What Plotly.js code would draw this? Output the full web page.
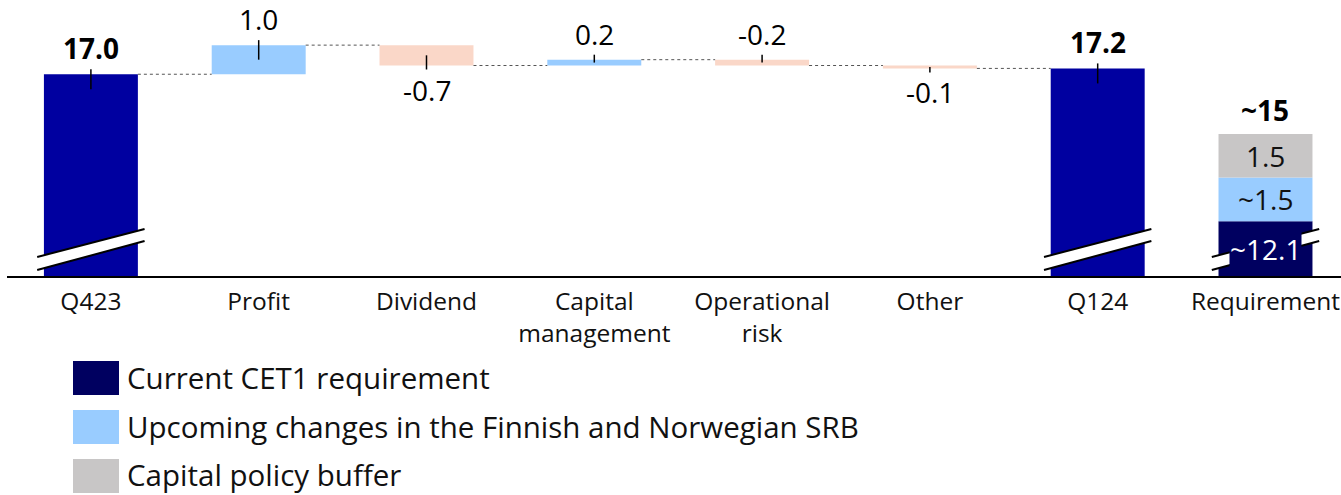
<!DOCTYPE html>
<html>
<head>
<meta charset="utf-8">
<script src="https://cdn.plot.ly/plotly-3.0.1.min.js"></script>
<style>html,body{margin:0;padding:0;background:#fff;}#chart{width:1341px;height:495px;}</style>
</head>
<body>
<div id="chart"></div>
<script>
// ---- data ----
const categories = ["Q423", "Profit", "Dividend", "Capital management", "Operational risk", "Other", "Q124", "Requirement"];
const tickLabels = ["Q423", "Profit", "Dividend", "Capital<br>management", "Operational<br>risk", "Other", "Q124", "Requirement"];
const waterfallValues = [17.0, 1.0, -0.7, 0.2, -0.2, -0.1, 17.2];
const waterfallMeasures = ["absolute", "relative", "relative", "relative", "relative", "relative", "absolute"];
const waterfallLabels = ["17.0", "1.0", "-0.7", "0.2", "-0.2", "-0.1", "17.2"];
const labelSides = ["above", "above", "below", "above", "above", "below", "above"];
const reqSeries = ["Current CET1 requirement", "Upcoming changes in the Finnish and Norwegian SRB", "Capital policy buffer"];
const reqValues = [11.95, 1.5, 1.5];
const reqLabels = ["~12.1", "~1.5", "1.5"];
const reqTotalLabel = "~15";

// ---- styles ----
const FONT = "Open Sans, Noto Sans, sans-serif";
const C_ABS = "#0000A0", C_INC = "#99CCFF", C_DEC = "#FAD7C8";
const reqColors = ["#000060", "#99CCFF", "#C8C6C6"];
const reqTextColors = ["#ffffff", "#111111", "#111111"];
const W = 1341, H = 495, ML = 7, MT = 0, MB = 219, MR = 0;
const PH = H - MT - MB, PW = W - ML - MR;
const Y0 = 10.07, Y1 = 19.55, X0 = -0.5, X1 = 7.45;
const PPU = PH / (Y1 - Y0);
const BW = 0.56;
const pxY = p => p / PPU; // pixel length -> data length
const paperX = px => (px - ML) / PW;
const paperY = py => (MT + PH - py) / PH;

// waterfall geometry
const bases = [], lens = [], colors = [], ends = [];
let cum = 0;
waterfallValues.forEach((v, i) => {
  if (waterfallMeasures[i] === "absolute") {
    bases.push(0); lens.push(v); colors.push(C_ABS); cum = v;
  } else {
    bases.push(cum); lens.push(v); colors.push(v >= 0 ? C_INC : C_DEC); cum += v;
  }
  ends.push(cum);
});
const xs = waterfallValues.map((_, i) => i);

const traces = [{
  type: "bar", x: xs, y: lens, base: bases, width: BW,
  marker: {color: colors, line: {width: 0}}, showlegend: false, hoverinfo: "skip"
}];
let reqBase = 0;
const reqBases = [];
reqValues.forEach((v, k) => {
  reqBases.push(reqBase);
  traces.push({
    type: "bar", x: [7], y: [v], base: [reqBase], width: BW, name: reqSeries[k],
    marker: {color: reqColors[k], line: {width: 0}}, showlegend: false, hoverinfo: "skip"
  });
  reqBase += v;
});

const shapes = [], annotations = [];
// connectors
for (let i = 0; i < 6; i++) {
  shapes.push({type: "line", xref: "x", yref: "y", x0: i + BW / 2, x1: i + 1 - BW / 2, y0: ends[i], y1: ends[i],
    line: {color: "#555", width: 1, dash: "dot"}});
}
// labels + ticks
waterfallValues.forEach((v, i) => {
  const top = Math.max(bases[i], bases[i] + lens[i]);
  const bot = Math.min(bases[i], bases[i] + lens[i]);
  const hpx = (top - bot) * PPU;
  const inside = Math.min(15, hpx / 2);
  const isAbs = waterfallMeasures[i] === "absolute";
  const txt = isAbs ? "<b>" + waterfallLabels[i] + "</b>" : waterfallLabels[i];
  if (labelSides[i] === "above") {
    shapes.push({type: "line", xref: "x", yref: "y", x0: i, x1: i, y0: top + pxY(5), y1: top - pxY(inside), line: {color: "#000", width: 1.5}});
    annotations.push({x: i, y: top, xref: "x", yref: "y", text: txt,
      showarrow: false, yanchor: "middle", yshift: 26, font: {family: FONT, size: 28, color: "#000"}});
  } else {
    shapes.push({type: "line", xref: "x", yref: "y", x0: i, x1: i, y0: bot - pxY(4), y1: bot + pxY(inside), line: {color: "#000", width: 1.5}});
    annotations.push({x: i, y: bot, xref: "x", yref: "y", text: txt,
      showarrow: false, yanchor: "middle", yshift: -24, font: {family: FONT, size: 28, color: "#000"}});
  }
});
// breaks
[0, 6, 7].forEach(i => {
  const xa = i - 0.32, xb = i + 0.32;
  const y = p => Y0 + pxY(p);
  shapes.push({type: "path", xref: "x", yref: "y",
    path: `M ${xa} ${y(6)} L ${xb} ${y(35)} L ${xb} ${y(47)} L ${xa} ${y(19)} Z`,
    fillcolor: "#fff", line: {width: 0}});
  shapes.push({type: "line", xref: "x", yref: "y", x0: xa, x1: xb, y0: y(6), y1: y(35), line: {color: "#000", width: 2}});
  shapes.push({type: "line", xref: "x", yref: "y", x0: xa, x1: xb, y0: y(19), y1: y(47), line: {color: "#000", width: 2}});
});
// requirement labels
reqValues.forEach((v, k) => {
  let yc = reqBases[k] + v / 2;
  if (k === 0) yc = Y0 + pxY(27);
  annotations.push({x: 7, y: yc, xref: "x", yref: "y", text: reqLabels[k], showarrow: false, yanchor: "middle",
    font: {family: FONT, size: 28, color: reqTextColors[k]},
    bgcolor: k === 0 ? reqColors[0] : "rgba(0,0,0,0)", borderpad: 0});
});
annotations.push({x: 7, y: reqBase, xref: "x", yref: "y", text: "<b>" + reqTotalLabel + "</b>", showarrow: false,
  yanchor: "middle", yshift: 24, font: {family: FONT, size: 28, color: "#000"}});
// legend
const legTops = [361, 410, 459];
const legTextY = [377, 426, 474];
reqSeries.forEach((s, k) => {
  shapes.push({type: "rect", xref: "paper", yref: "paper", x0: paperX(73), x1: paperX(119),
    y0: paperY(legTops[k]), y1: paperY(legTops[k] + 34), fillcolor: reqColors[k], line: {width: 0}});
  annotations.push({xref: "paper", yref: "paper", x: paperX(125), y: paperY(legTextY[k]), text: s,
    showarrow: false, xanchor: "left", yanchor: "middle", font: {family: FONT, size: 29.5, color: "#111"}});
});

const layout = {
  width: W, height: H, margin: {l: ML, r: MR, t: MT, b: MB, pad: 0},
  paper_bgcolor: "#fff", plot_bgcolor: "#fff", barmode: "overlay", showlegend: false,
  xaxis: {range: [X0, X1], tickvals: categories.map((_, i) => i), ticktext: tickLabels, showgrid: false, zeroline: false,
    showline: true, linecolor: "#000", linewidth: 2, ticks: "outside", ticklen: 3, tickcolor: "rgba(0,0,0,0)",
    ticklabeloverflow: "allow", automargin: false,
    tickfont: {family: FONT, size: 24.5, color: "#111"}, fixedrange: true},
  yaxis: {range: [Y0, Y1], visible: false, showgrid: false, zeroline: false, fixedrange: true},
  shapes: shapes, annotations: annotations
};
Plotly.newPlot("chart", traces, layout, {staticPlot: true, displayModeBar: false});
</script>
</body>
</html>
